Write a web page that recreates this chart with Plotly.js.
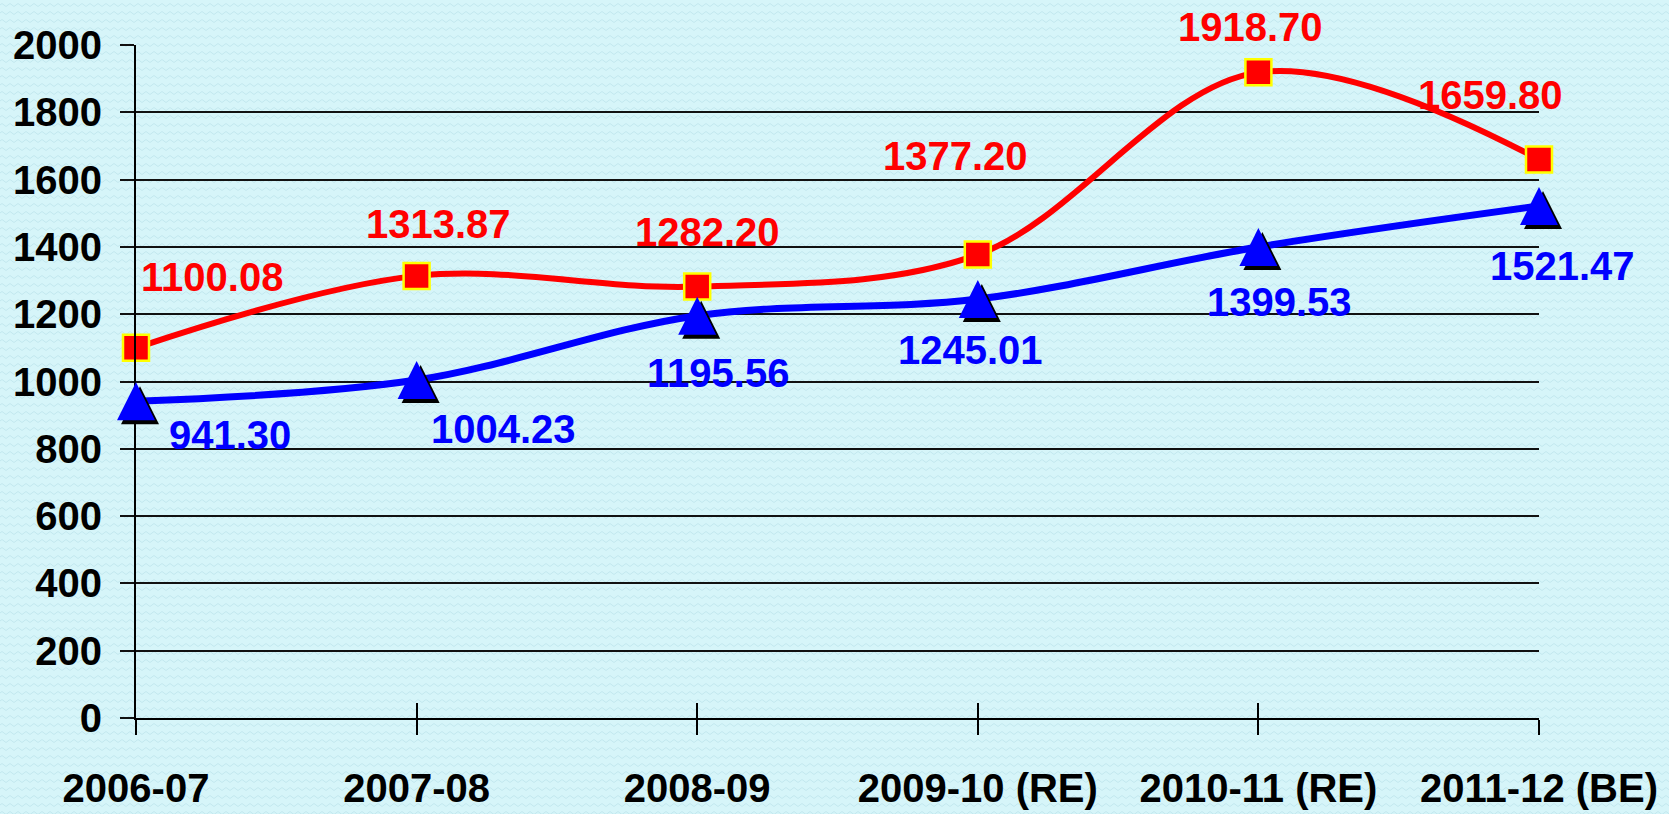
<!DOCTYPE html>
<html>
<head>
<meta charset="utf-8">
<script src="https://cdn.plot.ly/plotly-3.0.1.min.js"></script>
<style>
  html, body { margin: 0; padding: 0; }
  body {
    width: 1669px; height: 814px; overflow: hidden;
    background-color: #d6f5f9;
    background-image: url("data:image/svg+xml;utf8,<svg xmlns='http://www.w3.org/2000/svg' width='8' height='8'><path d='M0 5 Q2 2 4 5 T8 5' stroke='%23c2e7ee' stroke-width='1' fill='none'/></svg>");
  }
  #chart { width: 1669px; height: 814px; }
</style>
</head>
<body>
<div id="chart"></div>
<script>
// ---- data ----
var categories = ["2006-07", "2007-08", "2008-09", "2009-10 (RE)", "2010-11 (RE)", "2011-12 (BE)"];
var redValues  = [1100.08, 1313.87, 1282.20, 1377.20, 1918.70, 1659.80];
var blueValues = [941.30, 1004.23, 1195.56, 1245.01, 1399.53, 1521.47];
var yTickValues = [0, 200, 400, 600, 800, 1000, 1200, 1400, 1600, 1800, 2000];

// ---- styling (label offsets in pixels) ----
var redLabelShift  = [[76, 71], [22, 52], [10, 55], [-22, 99], [-8, 45], [-49, 64]];
var blueLabelShift = [[94, -34], [87, -49], [21, -57], [-7, -51], [21, -55], [23, -60]];

var W = 1669, H = 814;
var shadowPx = 4;
var mL = 136, mR = 130 - shadowPx, mT = 45, mB = 96;
var areaW = W - mL - mR, plotH = H - mT - mB;
var plotW = areaW - shadowPx;
var dom = [0, plotW / areaW];
var domShadow = [shadowPx / areaW, 1];
var yMax = 2000, xMax = categories.length - 1;
var pxPerY = plotH / yMax;

var triSize = 38;             // arrow-up marker: tip at point, so lift by half height
var triLift = (triSize / 2) / pxPerY;
var shadowDy = shadowPx / pxPerY;

var font = "Liberation Sans, Arial, sans-serif";

var traces = [
  { // blue line
    x: categories, y: blueValues, mode: "lines", type: "scatter", hoverinfo: "skip",
    line: { color: "#0000ff", width: 7, shape: "spline", smoothing: 1 }
  },
  { // red line with squares
    x: categories, y: redValues, mode: "lines+markers", type: "scatter", hoverinfo: "skip",
    line: { color: "#ff0000", width: 6, shape: "spline", smoothing: 1 },
    marker: { symbol: "square", size: 26, color: "#ff0000", line: { color: "#ffff00", width: 2.5 } }
  },
  { // shadow of triangles
    x: categories, y: blueValues, xaxis: "x2", yaxis: "y2",
    mode: "markers", type: "scatter", hoverinfo: "skip",
    marker: { symbol: "arrow-up", size: triSize, color: "#000000", line: { width: 0 } }
  },
  { // blue triangles
    x: categories, y: blueValues, xaxis: "x3", yaxis: "y3",
    mode: "markers", type: "scatter", hoverinfo: "skip",
    marker: { symbol: "arrow-up", size: triSize, color: "#0000ff", line: { width: 0 } }
  }
];

var annotations = [];
redValues.forEach(function (v, i) {
  annotations.push({
    x: categories[i], y: v, xref: "x", yref: "y", showarrow: false,
    text: v.toFixed(2), xshift: redLabelShift[i][0], yshift: redLabelShift[i][1],
    font: { family: font, size: 40, color: "#ff0000", weight: 700 }
  });
});
blueValues.forEach(function (v, i) {
  annotations.push({
    x: categories[i], y: v, xref: "x", yref: "y", showarrow: false,
    text: v.toFixed(2), xshift: blueLabelShift[i][0], yshift: blueLabelShift[i][1],
    font: { family: font, size: 40, color: "#0000ff", weight: 700 }
  });
});

var hiddenAxis = { showgrid: false, zeroline: false, showline: false, showticklabels: false, ticks: "", fixedrange: true };

var layout = {
  width: W, height: H,
  margin: { l: mL, r: mR, t: mT, b: mB, pad: 0 },
  paper_bgcolor: "rgba(0,0,0,0)",
  plot_bgcolor: "rgba(0,0,0,0)",
  showlegend: false,
  font: { family: font, color: "#000000" },
  xaxis: {
    type: "category", categoryarray: categories, range: [0, xMax], domain: dom,
    showgrid: false, zeroline: false,
    showline: true, linecolor: "#000000", linewidth: 2,
    ticks: "outside", ticklen: 15, tickwidth: 2, tickcolor: "#000000",
    ticklabelstandoff: 19,
    tickfont: { family: font, size: 40, color: "#000000", weight: 700 },
    fixedrange: true
  },
  xaxis2: Object.assign({}, hiddenAxis, {
    type: "category", categoryarray: categories, range: [0, xMax], domain: domShadow,
    anchor: "y2"
  }),
  xaxis3: Object.assign({}, hiddenAxis, {
    type: "category", categoryarray: categories, range: [0, xMax], domain: dom,
    anchor: "y3", side: "bottom",
    ticks: "inside", ticklen: 15, tickwidth: 2, tickcolor: "#000000"
  }),
  yaxis: {
    range: [0, yMax], tickvals: yTickValues,
    showgrid: true, gridcolor: "#111111", gridwidth: 2,
    zeroline: false,
    showline: true, linecolor: "#000000", linewidth: 2,
    ticks: "outside", ticklen: 14, tickwidth: 2, tickcolor: "#111111",
    ticklabelstandoff: 10,
    tickfont: { family: font, size: 40, color: "#000000", weight: 700 },
    fixedrange: true
  },
  yaxis2: Object.assign({}, hiddenAxis, {
    anchor: "x2", range: [-triLift + shadowDy, yMax - triLift + shadowDy]
  }),
  yaxis3: Object.assign({}, hiddenAxis, {
    anchor: "x3", range: [-triLift, yMax - triLift]
  }),
  annotations: annotations
};

traces.forEach(function (t) { t.cliponaxis = false; });

Plotly.newPlot("chart", traces, layout, { displayModeBar: false, staticPlot: true });
</script>
</body>
</html>
